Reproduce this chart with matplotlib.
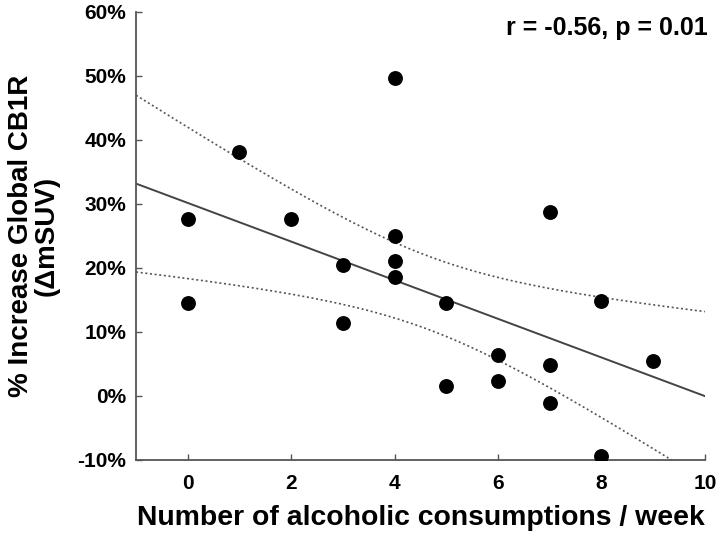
import numpy as np
import matplotlib
matplotlib.use("Agg")
import matplotlib.pyplot as plt
from matplotlib.ticker import FuncFormatter

# Data
drinks = [0, 0, 1, 2, 3, 3, 4, 4, 4, 4, 5, 5, 6, 6, 7, 7, 7, 8, 8, 9]
increase = [27.7, 14.5, 38.1, 27.6, 20.5, 11.4, 49.7, 25.0, 21.1, 18.6,
            14.5, 1.6, 6.4, 2.4, 28.7, 4.8, -1.1, 14.9, -9.4, 5.4]
x_ticks = [0, 2, 4, 6, 8, 10]
y_ticks = [-10, 0, 10, 20, 30, 40, 50, 60]
annotation = "r = -0.56, p = 0.01"

plt.rcParams['font.family'] = ['Liberation Sans', 'DejaVu Sans']

x = np.array(drinks, float)
y = np.array(increase, float)
n = len(x)
slope, intercept = np.polyfit(x, y, 1)
resid = y - (slope * x + intercept)
s = np.sqrt(np.sum(resid ** 2) / (n - 2))
xm = x.mean()
sxx = np.sum((x - xm) ** 2)
t = 2.101
xs = np.linspace(-1, 10, 200)
fit = slope * xs + intercept
hw = t * s * np.sqrt(1.0 / n + (xs - xm) ** 2 / sxx)

fig = plt.figure(figsize=(7.2, 5.37), dpi=100)
ax = fig.add_axes([0.189, 0.1434, 0.790, 0.8346])

ax.plot(xs, fit, color='#444444', lw=1.4, zorder=2)
ax.plot(xs, fit + hw, color='#555555', lw=1.2, ls=(0, (1.2, 1.6)), zorder=2)
ax.plot(xs, fit - hw, color='#555555', lw=1.2, ls=(0, (1.2, 1.6)), zorder=2)
ax.scatter(x, y, s=115, color='black', zorder=3, linewidths=0)

ax.set_xlim(-1, 10)
ax.set_ylim(-10, 60)
ax.set_xticks(x_ticks)
ax.set_yticks(y_ticks)
ax.yaxis.set_major_formatter(FuncFormatter(lambda v, p: f"{v:.0f}%"))
for sp in ['top', 'right']:
    ax.spines[sp].set_visible(False)
for sp in ['left', 'bottom']:
    ax.spines[sp].set_color('#555555')
    ax.spines[sp].set_linewidth(1.3)
ax.tick_params(direction='in', length=4, width=1.0, color='#555555',
               labelsize=15)
ax.tick_params(axis='x', pad=10)
ax.tick_params(axis='y', pad=7)
for lab in ax.get_xticklabels() + ax.get_yticklabels():
    lab.set_fontweight('bold')

ax.set_xlabel("Number of alcoholic consumptions / week", fontsize=20.4,
              fontweight='bold')
ax.xaxis.set_label_coords(0.5, -0.100)
ax.set_ylabel("% Increase Global CB1R\n(\u0394mSUV)", fontsize=20,
              fontweight='bold', linespacing=1.0)
ax.yaxis.set_label_coords(-0.134, 0.5)
ax.text(1.005, 0.99, annotation, transform=ax.transAxes, ha='right', va='top',
        fontsize=18, fontweight='bold')

fig.savefig("out.png", dpi=100)
